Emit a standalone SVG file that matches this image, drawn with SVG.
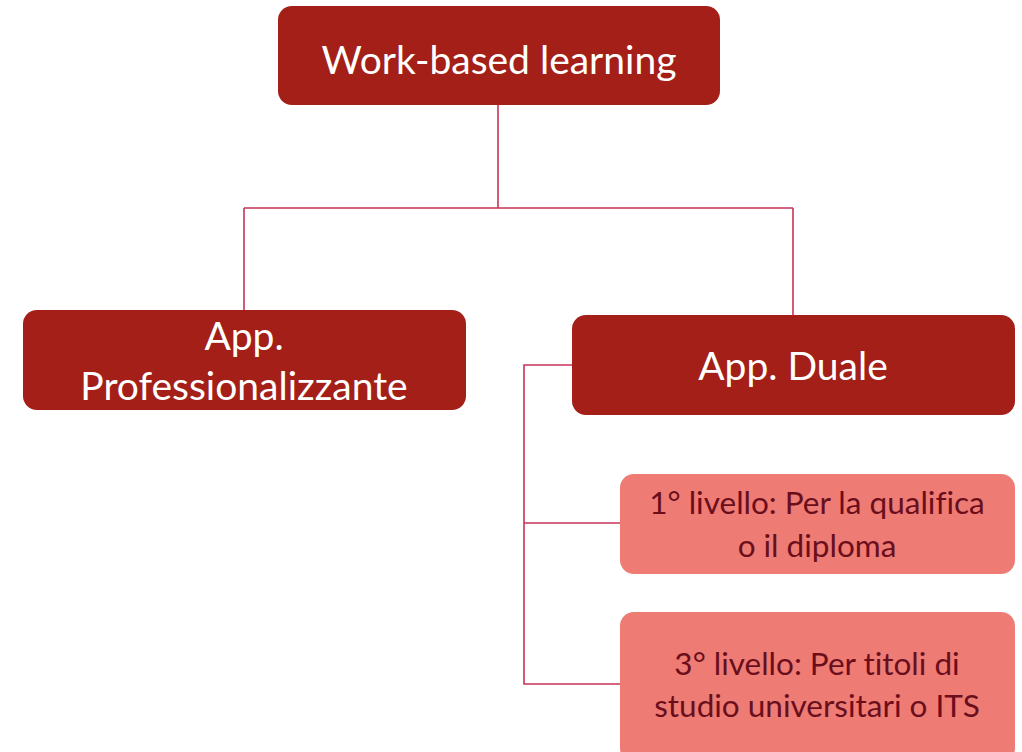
<svg xmlns="http://www.w3.org/2000/svg" width="1022" height="752" viewBox="0 0 1022 752">
<style>
.dark{fill:#A31F17;}
.pink{fill:#EE7B74;}
.wt{fill:#FFFFFF;font-family:Lato,"Open Sans",sans-serif;font-size:39px;text-anchor:middle;font-variant-ligatures:none;}
.pt{fill:#6A0E1C;font-family:Lato,"Open Sans",sans-serif;font-size:31.5px;text-anchor:middle;font-variant-ligatures:none;}
.conn{fill:none;stroke:#C8345A;stroke-width:1.6;}
</style>
<rect width="1022" height="752" fill="#FFFFFF"/>
<g id="connectors">
<path class="conn" d="M498,105 V208 M244,208 H793 M244,208 V310 M793,208 V315"/>
<path class="conn" d="M572,365 H524 V684 H620 M524,523 H620"/>
</g>
<g id="node-wbl">
<rect class="dark" x="278" y="6" width="442" height="99" rx="14"/>
<text class="wt" x="499" y="74">Work-based learning</text>
</g>
<g id="node-prof">
<rect class="dark" x="23" y="310" width="443" height="100" rx="14"/>
<text class="wt" x="244" y="350">App.</text>
<text class="wt" x="244" y="400">Professionalizzante</text>
</g>
<g id="node-duale">
<rect class="dark" x="572" y="315" width="443" height="100" rx="14"/>
<text class="wt" x="793" y="380">App. Duale</text>
</g>
<g id="node-liv1">
<rect class="pink" x="620" y="474" width="395" height="100" rx="14"/>
<text class="pt" x="817" y="514">1° livello: Per la qualifica</text>
<text class="pt" x="817" y="557">o il diploma</text>
</g>
<g id="node-liv3">
<rect class="pink" x="620" y="612" width="395" height="150" rx="14"/>
<text class="pt" x="817" y="675">3° livello: Per titoli di</text>
<text class="pt" x="817" y="717">studio universitari o ITS</text>
</g>
</svg>
